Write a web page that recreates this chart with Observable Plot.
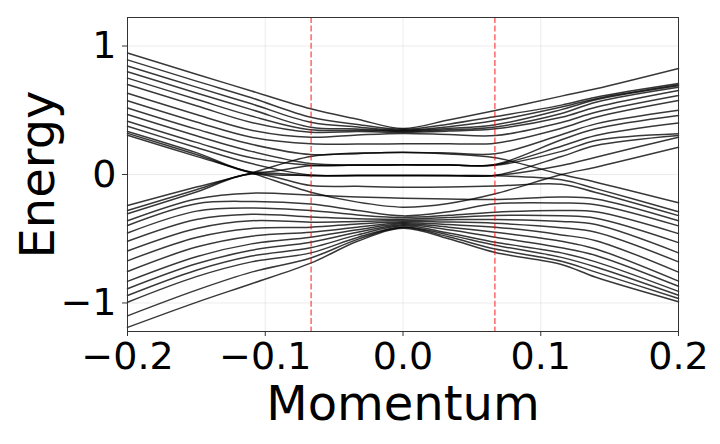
<!DOCTYPE html>
<html>
<head>
<meta charset="utf-8">
<script src="https://cdn.jsdelivr.net/npm/d3@7"></script>
<script src="https://cdn.jsdelivr.net/npm/@observablehq/plot@0.6"></script>
<style>
  html, body { margin: 0; padding: 0; background: #fff; }
  #chart { width: 720px; height: 444px; }
</style>
</head>
<body>
<div id="chart"></div>
<script>
// Momentum sample positions shared by every band
const momentum = [-0.2, -0.15, -0.11, -0.067, -0.033, 0, 0.033, 0.067, 0.115, 0.14, 0.2];

// Energy of each traced band at the momentum samples above
const band01 = [0.946, 0.781, 0.65, 0.511, 0.43, 0.358, 0.425, 0.498, 0.61, 0.667, 0.825];
const band02 = [0.892, 0.727, 0.597, 0.446, 0.39, 0.352, 0.392, 0.451, 0.54, 0.602, 0.708];
const band03 = [0.845, 0.68, 0.55, 0.407, 0.37, 0.346, 0.372, 0.42, 0.525, 0.59, 0.698];
const band04 = [0.8, 0.635, 0.505, 0.368, 0.355, 0.34, 0.358, 0.387, 0.505, 0.581, 0.69];
const band05 = [0.75, 0.585, 0.455, 0.348, 0.345, 0.334, 0.348, 0.37, 0.475, 0.563, 0.679];
const band06 = [0.7, 0.535, 0.405, 0.329, 0.334, 0.328, 0.338, 0.356, 0.445, 0.524, 0.654];
const band07 = [0.632, 0.467, 0.345, 0.29, 0.308, 0.32, 0.312, 0.303, 0.405, 0.485, 0.615];
const band08 = [0.574, 0.409, 0.29, 0.239, 0.237, 0.239, 0.24, 0.244, 0.36, 0.446, 0.576];
const band09 = [0.518, 0.353, 0.235, 0.155, 0.168, 0.172, 0.168, 0.161, 0.31, 0.394, 0.5];
const band10 = [0.467, 0.302, 0.18, 0.085, 0.074, 0.075, 0.075, 0.078, 0.27, 0.356, 0.459];
const band11 = [0.415, 0.25, 0.13, 0.072, 0.073, 0.075, 0.074, 0.075, 0.22, 0.303, 0.4];
const band12 = [0.375, 0.21, 0.085, -0.004, -0.008, -0.008, -0.008, -0.006, 0.14, 0.226, 0.304];
const band13 = [0.335, 0.17, 0.02, 0.068, 0.072, 0.075, 0.073, 0.072, 0.18, 0.265, 0.317];
const band14 = [0.32, 0.155, 0.015, -0.008, -0.008, -0.008, -0.008, -0.008, 0.07, 0.135, 0.29];
const bandXb = [0.306, 0.141, 0.012, -0.138, -0.215, -0.254, -0.225, -0.15, 0.0, 0.057, 0.212];
const bandXa = [-0.241, -0.098, 0.012, 0.14, 0.162, 0.174, 0.16, 0.13, 0.0, -0.06, -0.22];
const band17 = [-0.28, -0.118, 0.008, -0.01, -0.008, -0.008, -0.009, -0.01, -0.04, -0.11, -0.29];
const band18 = [-0.306, -0.136, 0.004, -0.086, -0.092, -0.099, -0.097, -0.09, -0.075, -0.14, -0.32];
const band19 = [-0.36, -0.19, -0.145, -0.16, -0.175, -0.184, -0.19, -0.195, -0.175, -0.19, -0.36];
const band20 = [-0.397, -0.228, -0.21, -0.23, -0.28, -0.322, -0.29, -0.228, -0.222, -0.235, -0.4];
const band21 = [-0.455, -0.285, -0.26, -0.28, -0.315, -0.335, -0.318, -0.293, -0.28, -0.29, -0.46];
const band22 = [-0.52, -0.35, -0.31, -0.33, -0.345, -0.348, -0.335, -0.319, -0.322, -0.34, -0.53];
const band23 = [-0.595, -0.42, -0.36, -0.371, -0.365, -0.358, -0.352, -0.35, -0.365, -0.39, -0.61];
const band24 = [-0.672, -0.49, -0.42, -0.41, -0.385, -0.367, -0.37, -0.38, -0.415, -0.45, -0.68];
const band25 = [-0.755, -0.565, -0.48, -0.449, -0.41, -0.375, -0.39, -0.41, -0.47, -0.515, -0.76];
const band26 = [-0.832, -0.64, -0.54, -0.488, -0.43, -0.383, -0.41, -0.449, -0.52, -0.58, -0.83];
const band27 = [-0.889, -0.695, -0.59, -0.527, -0.45, -0.391, -0.43, -0.488, -0.57, -0.63, -0.87];
const band28 = [-0.942, -0.745, -0.635, -0.57, -0.47, -0.399, -0.455, -0.527, -0.61, -0.68, -0.91];
const band29 = [-0.994, -0.795, -0.68, -0.61, -0.49, -0.408, -0.47, -0.55, -0.645, -0.72, -0.94];
const band30 = [-1.1, -0.9, -0.76, -0.65, -0.505, -0.413, -0.485, -0.58, -0.675, -0.76, -0.965];
const band31 = [-1.19, -0.995, -0.85, -0.69, -0.52, -0.418, -0.5, -0.607, -0.7, -0.8, -0.99];

// Vertical dashed markers
const markerMomenta = [-0.0667, 0.0667];

// Axis ticks
const xTicks = [-0.2, -0.1, 0, 0.1, 0.2];
const xTickLabels = ["\u22120.2", "\u22120.1", "0.0", "0.1", "0.2"];
const yTicks = [-1, 0, 1];
const yTickLabels = ["\u22121", "0", "1"];

const bands = [band01, band02, band03, band04, band05, band06, band07, band08, band09, band10,
  band11, band12, band13, band14, bandXb, bandXa, band17, band18, band19, band20,
  band21, band22, band23, band24, band25, band26, band27, band28, band29, band30, band31];
const rows = [];
bands.forEach((b, i) => b.forEach((e, j) => rows.push({band: i, k: momentum[j], e})));

const chart = Plot.plot({
  width: 720,
  height: 444,
  marginLeft: 127,
  marginRight: 42,
  marginTop: 17,
  marginBottom: 113,
  x: {domain: [-0.2, 0.2]},
  y: {domain: [-1.222, 1.222]},
  style: {fontFamily: "DejaVu Sans", fontSize: "38px", background: "#fff", color: "#000", overflow: "visible"},
  marks: [
    Plot.gridX(xTicks, {stroke: "#b0b0b0", strokeOpacity: 0.3, strokeWidth: 0.8}),
    Plot.gridY(yTicks, {stroke: "#b0b0b0", strokeOpacity: 0.3, strokeWidth: 0.8}),
    Plot.line(rows, {x: "k", y: "e", z: "band", stroke: "#000", strokeOpacity: 0.78, strokeWidth: 1.5, curve: "catmull-rom"}),
    Plot.ruleX(markerMomenta, {stroke: "red", strokeOpacity: 0.6, strokeWidth: 1.5, strokeDasharray: "6,2.6"}),
    Plot.frame({stroke: "#333", strokeWidth: 1}),
    Plot.axisX(xTicks, {
      tickFormat: d => xTickLabels[xTicks.indexOf(d)],
      tickSize: 5, tickPadding: 6, stroke: "#333",
      label: null
    }),
    Plot.axisY(yTicks, {
      tickFormat: d => yTickLabels[yTicks.indexOf(d)],
      tickSize: 5, tickPadding: 6, stroke: "#333",
      label: null
    }),
    Plot.text(["Momentum"], {frameAnchor: "bottom", textAnchor: "middle", lineAnchor: "top", dy: 54, fontSize: 48, fill: "#000"}),
    Plot.text(["Energy"], {frameAnchor: "left", textAnchor: "middle", lineAnchor: "middle", rotate: -90, dx: -89, fontSize: 48, fill: "#000"})
  ]
});
document.getElementById("chart").appendChild(chart);
</script>
</body>
</html>
